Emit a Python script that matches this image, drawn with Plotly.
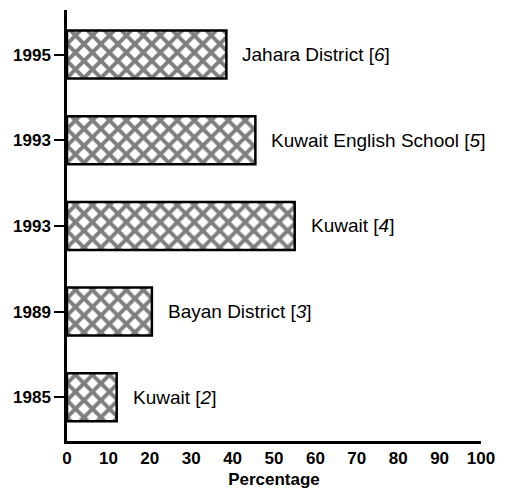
import plotly.graph_objects as go

years = ["1985", "1989", "1993", "1993", "1995"]
labels = ["Kuwait [<i>2</i>]", "Bayan District [<i>3</i>]", "Kuwait [<i>4</i>]",
          "Kuwait English School [<i>5</i>]", "Jahara District [<i>6</i>]"]
values = [12, 20.5, 55, 45.5, 38.5]
positions = list(range(len(years)))

SANS = "Liberation Sans"

fig = go.Figure()
fig.add_trace(go.Bar(
    y=positions, x=values, orientation="h", width=0.56,
    marker=dict(color="white", line=dict(color="black", width=2.5),
                pattern=dict(shape="x", fgcolor="black", bgcolor="white",
                             size=12, solidity=0.55)),
    showlegend=False, hoverinfo="skip",
))
for p, v, t in zip(positions, values, labels):
    fig.add_annotation(x=v, y=p, text=t, showarrow=False, xanchor="left",
                       xshift=14, font=dict(family=SANS, size=19, color="black"))

fig.update_layout(
    width=498, height=483, plot_bgcolor="white", paper_bgcolor="white",
    margin=dict(l=59, r=25, t=2, b=50),
    font=dict(family=SANS, color="black", size=16),
)
fig.update_xaxes(range=[0, 100], tickvals=list(range(0, 101, 10)), showgrid=False,
                 zeroline=False, showline=True, linecolor="black", linewidth=2.5,
                 ticks="", automargin=False,
                 title=dict(text="<b>Percentage</b>", standoff=6,
                            font=dict(family=SANS, size=17)),
                 tickfont=dict(size=17, family=SANS, weight="bold"))
fig.update_yaxes(range=[-0.51, 4.52], tickvals=positions,
                 ticktext=["<b>%s</b>" % y for y in years],
                 showgrid=False, zeroline=False, showline=True, linecolor="black",
                 linewidth=2.5, ticks="outside", ticklen=10, tickwidth=1.5,
                 tickcolor="black", automargin=False,
                 tickfont=dict(size=17, family=SANS))
fig.write_html("out.html")
